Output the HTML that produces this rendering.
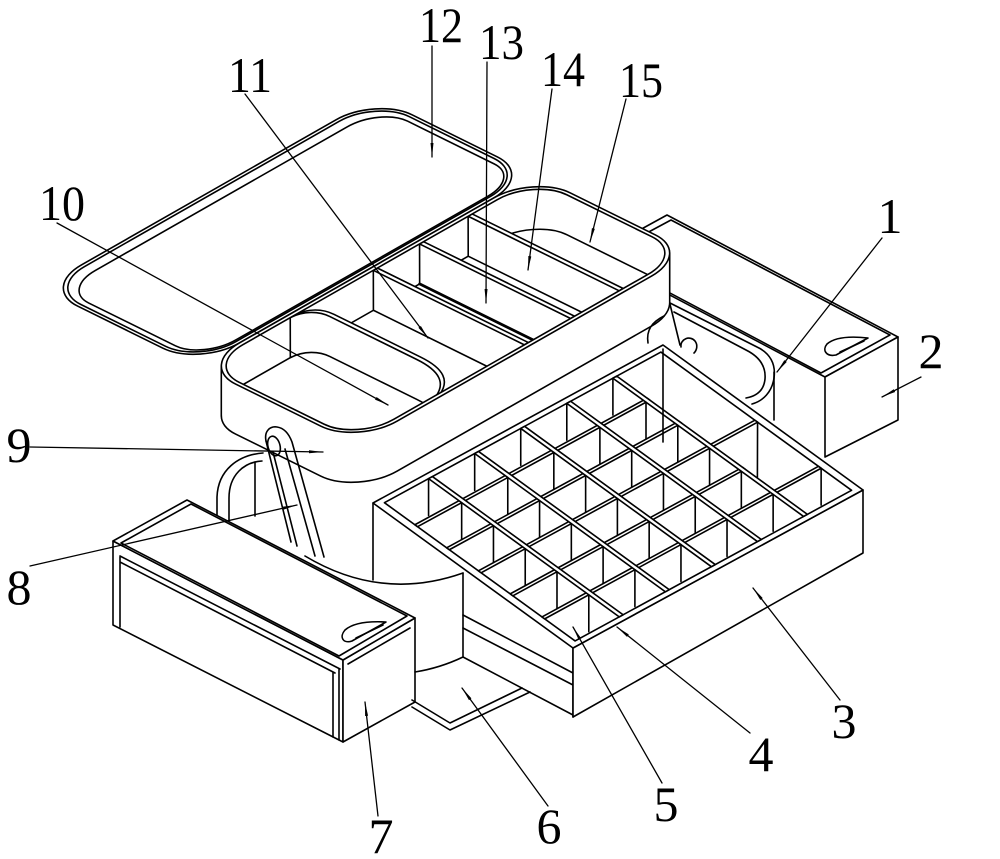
<!DOCTYPE html>
<html><head><meta charset="utf-8">
<style>
html,body{margin:0;padding:0;background:#fff;}
svg{display:block;}
.n *{vector-effect:non-scaling-stroke;}
text{font-family:"Liberation Serif","DejaVu Serif",serif;font-size:50px;fill:#000;stroke:none;}
</style></head><body>
<svg width="1000" height="859" viewBox="0 0 1000 859" xmlns="http://www.w3.org/2000/svg">
<defs>
<marker id="ar" viewBox="0 0 14 4" refX="14" refY="2" markerWidth="14" markerHeight="4" markerUnits="userSpaceOnUse" orient="auto"><path d="M0,0.5 L14,2 L0,3.5 z" fill="#000" stroke="none"/></marker>
<clipPath id="tc"><rect x="10" y="22" width="980" height="956" rx="110" ry="208"/></clipPath>
</defs>
<rect width="1000" height="859" fill="#fff"/>
<g fill="none" stroke="#000" stroke-width="1.6" stroke-linejoin="round" stroke-linecap="round">

<!-- LID 12 -->
<g class="n" transform="matrix(0.335 -0.191 0.158 0.078 41 288)">
 <rect width="1000" height="1000" rx="120" ry="230" fill="#fff"/>
 <rect x="9" y="20" width="982" height="960" rx="111" ry="212"/>
 <rect x="24" y="80" width="952" height="890" rx="100" ry="170"/>
</g>

<!-- DRAWER 2 -->
<polygon points="594,255 825,377 825,457 594,335" fill="#fff" stroke="none"/>
<polygon points="667,215 898,337 825,377 594,255" fill="#fff"/>
<polygon points="671,220 890,335 821,373 602,257"/>
<polygon points="825,377 898,337 898,420 825,457" fill="#fff"/>
<path d="M868,338 L836,355 C826,357 822,350 827,344 C835,337 850,336 868,338 Z"/>
<path d="M864,341 L840,352"/>

<!-- lower tier right end -->
<path d="M670,303 L757,347 C770,353 776,364 774,378 C772,392 763,401 752,404"/>
<path d="M674,312 L746,350 C760,357 766,367 765,379 C764,390 757,396 746,398"/>
<path d="M774,372 L774,420"/>

<!-- TUB 9 : body -->
<g transform="translate(0,50)"><g class="n" transform="matrix(0.335 -0.191 0.158 0.078 199 366)">
 <rect width="1000" height="1000" rx="120" ry="230" fill="#fff"/>
</g></g>
<polygon points="221.3,366 669.7,253 669.7,303 221.3,416" fill="#fff" stroke="none"/>
<path d="M221.3,366 V416 M669.7,253 V303 L680,345"/>
<path d="M664,316 C652,322 646,330 648,343"/>
<path d="M681,347 C680,339 690,335 695,341 C698,345 697,350 694,353"/>

<!-- TUB top + interior -->
<g class="n" transform="matrix(0.335 -0.191 0.158 0.078 199 366)">
 <rect width="1000" height="1000" rx="120" ry="230" fill="#fff"/>
 <g clip-path="url(#tc)">
  <rect x="-102" y="260" width="980" height="956" rx="110" ry="208"/>
  <path d="M793,22 L793,978 L681,1216 L681,260 Z" fill="#fff" stroke="none"/>
  <path d="M793,22 L681,260 L681,1216"/>
  <rect x="793" y="22" width="12" height="956" fill="#fff"/>
  <path d="M648,22 L648,978 L536,1216 L536,260 Z" fill="#fff" stroke="none"/>
  <path d="M648,22 L536,260"/>
  <path d="M536,260 L536,1216" stroke-width="2.8"/>
  <rect x="648" y="22" width="12" height="956" fill="#fff"/>
  <path d="M510,22 L510,978 L398,1216 L398,260 Z" fill="#fff" stroke="none"/>
  <path d="M510,22 L398,260 L398,1216"/>
  <rect x="510" y="22" width="12" height="956" fill="#fff"/>
  <path d="M262,22 C300,26 320,80 320,150 L320,700 C320,850 292,940 242,985 L130,1223 C180,1178 208,1088 208,938 L208,388 C208,318 188,264 150,260 Z" fill="#fff" stroke="none"/>
  <path d="M262,22 L150,260 C188,264 208,318 208,388 L208,938 C208,1088 180,1178 130,1223"/>
  <path d="M262,22 C300,26 320,80 320,150 L320,700 C320,850 292,940 242,985 L254,985 C304,940 332,850 332,700 L332,150 C332,80 314,26 276,22 Z" fill="#fff"/>
 </g>
 <rect x="10" y="22" width="980" height="956" rx="110" ry="208"/>
</g>

<!-- lower tier left end -->
<path d="M263,453 C238,455 218,470 217,497 L217,522"/>
<path d="M262,461 C244,462 229,475 229,498 L229,521"/>
<path d="M255,462 L255,516"/>
<path d="M305,556 C345,580 398,596 463,573"/>

<!-- HANDLE 8 -->
<path d="M266,441 C264,431 270,426 277,427 C284,428 289,434 292,442 L324,557"/>
<path d="M266,441 L291,542"/>
<path d="M273,452 L297,546"/>
<path d="M285,449 L315,556"/>
<ellipse cx="274" cy="446" rx="6" ry="10" transform="rotate(-15 274 446)"/>

<!-- DRAWER 7 -->
<polygon points="113,541 343,660 343,742 113,625" fill="#fff"/>
<polygon points="343,660 415,618 415,702 343,742" fill="#fff"/>
<polygon points="113,541 187,500 415,618 343,660" fill="#fff"/>
<polygon points="121,543 191,504 407,616 339,656"/>
<path d="M120,556 L340,669 M120,562 L335,673 M120,557 L120,627 M333,672 L333,737 M339,669 L339,740"/>
<path d="M348,664 L410,628"/>
<path d="M386,622 L352,641 C343,644 339,637 345,630 C353,623 368,621 386,622 Z"/>
<path d="M383,625 L356,638"/>

<!-- PILLAR + BASE PLATE 6 -->
<path d="M463,573 L463,657 M415,672 Q440,668 463,657"/>
<path d="M412,700 L450,723 L522,688 M412,707 L450,730 L530,692"/>
<path d="M463,657 L573,715 M463,615 L573,673 M463,628 L573,685"/>

<!-- TRAY 3 -->
<path d="M373,503 L373,580 M573,648 L573,717"/>
<polygon points="573,648 863,490 863,553 573,717" fill="#fff"/>
<g class="n" transform="matrix(0.48333 -0.26333 0.33333 0.24167 373 503)">
 <rect width="600" height="600" fill="#fff"/>
 <rect x="14" y="14" width="572" height="572"/>
 <rect x="14" y="105.3" width="480.7" height="8" fill="#fff"/>
 <rect x="14" y="200.7" width="480.7" height="8" fill="#fff"/>
 <rect x="14" y="391.3" width="480.7" height="8" fill="#fff"/>
 <rect x="14" y="296" width="572" height="8" fill="#fff"/>
 <rect x="14" y="486.7" width="572" height="8" fill="#fff"/>
 <rect x="105.3" y="14" width="8" height="572" fill="#fff"/>
 <rect x="200.7" y="14" width="8" height="572" fill="#fff"/>
 <rect x="296" y="14" width="8" height="572" fill="#fff"/>
 <rect x="391.3" y="14" width="8" height="572" fill="#fff"/>
 <rect x="486.7" y="14" width="8" height="572" fill="#fff"/>
 <path d="M105.3 14l-60 87M105.3 113.3l-60 87M105.3 208.7l-60 87M105.3 304l-60 87M105.3 399.3l-60 87M105.3 494.7l-60 87
 M200.7 14l-60 87M200.7 113.3l-60 87M200.7 208.7l-60 87M200.7 304l-60 87M200.7 399.3l-60 87M200.7 494.7l-60 87
 M296 14l-60 87M296 113.3l-60 87M296 208.7l-60 87M296 304l-60 87M296 399.3l-60 87M296 494.7l-60 87
 M391.3 14l-60 87M391.3 113.3l-60 87M391.3 208.7l-60 87M391.3 304l-60 87M391.3 399.3l-60 87M391.3 494.7l-60 87
 M486.7 14l-60 87M486.7 113.3l-60 87M486.7 208.7l-60 87M486.7 304l-60 87M486.7 399.3l-60 87M486.7 494.7l-60 87
 M586 304l-90 130M586 494.7l-60 87"/>
</g>
<path d="M663,349 L663,442"/>

<!-- LEADERS -->
<g stroke-width="1.3" marker-end="url(#ar)">
 <path d="M432,46 L432,157"/>
 <path d="M487,62 L486,303"/>
 <path d="M552,89 L528,270"/>
 <path d="M626,99 L590,242"/>
 <path d="M245,94 L428,338"/>
 <path d="M57,223 L388,405"/>
 <path d="M30,447 L323,452"/>
 <path d="M30,566 L297,505"/>
 <path d="M882,238 L777,372"/>
 <path d="M921,377 L882,397"/>
 <path d="M840,700 L753,588"/>
 <path d="M750,733 L617,627"/>
 <path d="M662,783 L573,627"/>
 <path d="M548,806 L462,688"/>
 <path d="M378,816 L365,702"/>
</g>
</g>

<!-- LABELS -->
<text x="419" y="42" textLength="44" lengthAdjust="spacingAndGlyphs">12</text>
<text x="479" y="59" textLength="45" lengthAdjust="spacingAndGlyphs">13</text>
<text x="541" y="86" textLength="44" lengthAdjust="spacingAndGlyphs">14</text>
<text x="619" y="97" textLength="44" lengthAdjust="spacingAndGlyphs">15</text>
<text x="228" y="92" textLength="44" lengthAdjust="spacingAndGlyphs">11</text>
<text x="39" y="220" textLength="46" lengthAdjust="spacingAndGlyphs">10</text>
<text x="890" y="233" text-anchor="middle">1</text>
<text x="931" y="368" text-anchor="middle">2</text>
<text x="19" y="462" text-anchor="middle">9</text>
<text x="19" y="604" text-anchor="middle">8</text>
<text x="844" y="738" text-anchor="middle">3</text>
<text x="761" y="771" text-anchor="middle">4</text>
<text x="666" y="821" text-anchor="middle">5</text>
<text x="549" y="843" text-anchor="middle">6</text>
<text x="381" y="853" text-anchor="middle">7</text>
</svg>
</body></html>
